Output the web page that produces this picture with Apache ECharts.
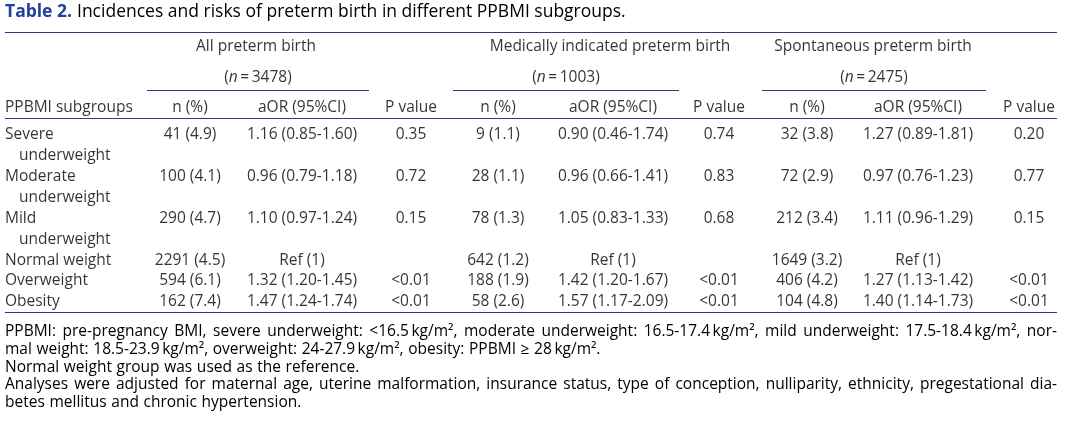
<!DOCTYPE html>
<html><head><meta charset="utf-8">
<script src="https://cdn.jsdelivr.net/npm/echarts@6/dist/echarts.min.js"></script>
<style>html,body{margin:0;padding:0;background:#fff}#c{width:1066px;height:426px}</style>
</head><body><div id="c"></div>
<script>
// ---------------- data ----------------
const titleLabel = 'Table 2.';
const titleText = 'Incidences and risks of preterm birth in different PPBMI subgroups.';
const groupNames = ['All preterm birth', 'Medically indicated preterm birth', 'Spontaneous preterm birth'];
const groupSizes = ['3478', '1003', '2475'];
const columnHeaders = ['n (%)', 'aOR (95%CI)', 'P value'];
const rowHeaderLabel = 'PPBMI subgroups';
const subgroups = ['Severe underweight', 'Moderate underweight', 'Mild underweight', 'Normal weight', 'Overweight', 'Obesity'];
const allN    = ['41 (4.9)', '100 (4.1)', '290 (4.7)', '2291 (4.5)', '594 (6.1)', '162 (7.4)'];
const allAOR  = ['1.16 (0.85-1.60)', '0.96 (0.79-1.18)', '1.10 (0.97-1.24)', 'Ref (1)', '1.32 (1.20-1.45)', '1.47 (1.24-1.74)'];
const allP    = ['0.35', '0.72', '0.15', '', '<0.01', '<0.01'];
const medN    = ['9 (1.1)', '28 (1.1)', '78 (1.3)', '642 (1.2)', '188 (1.9)', '58 (2.6)'];
const medAOR  = ['0.90 (0.46-1.74)', '0.96 (0.66-1.41)', '1.05 (0.83-1.33)', 'Ref (1)', '1.42 (1.20-1.67)', '1.57 (1.17-2.09)'];
const medP    = ['0.74', '0.83', '0.68', '', '<0.01', '<0.01'];
const sponN   = ['32 (3.8)', '72 (2.9)', '212 (3.4)', '1649 (3.2)', '406 (4.2)', '104 (4.8)'];
const sponAOR = ['1.27 (0.89-1.81)', '0.97 (0.76-1.23)', '1.11 (0.96-1.29)', 'Ref (1)', '1.27 (1.13-1.42)', '1.40 (1.14-1.73)'];
const sponP   = ['0.20', '0.77', '0.15', '', '<0.01', '<0.01'];
const footnoteParagraphs = [
  ['PPBMI: pre-pregnancy BMI, severe underweight: <16.5\u2009kg/m\u00b2, moderate underweight: 16.5-17.4\u2009kg/m\u00b2, mild underweight: 17.5-18.4\u2009kg/m\u00b2, nor-',
   'mal weight: 18.5-23.9\u2009kg/m\u00b2, overweight: 24-27.9\u2009kg/m\u00b2, obesity: PPBMI \u2265 28\u2009kg/m\u00b2.'],
  ['Normal weight group was used as the reference.'],
  ['Analyses were adjusted for maternal age, uterine malformation, insurance status, type of conception, nulliparity, ethnicity, pregestational dia-',
   'betes mellitus and chronic hypertension.']
];

// ---------------- layout / style ----------------
const FONT = '"Open Sans", "Noto Sans", sans-serif';
const FS = 15.5;
const FW = 500;
const TEXT = '#000000';
const BLUE = '#23409a';
const RULE = '#2e3a87';
const L = {
  tableLeft: 5, tableTop: 32, tableWidth: 1052,
  colCenters: [185, 297, 406, 493, 608, 714, 802, 913, 1024],
  groupTitleCenters: [251, 605, 868],
  groupSpans: [[142, 364], [448, 674], [757, 981]],
  headerLineY: [15, 46, 75.5],
  underlineY: 58,
  headerRuleY: 86.5,
  bodyFirstY: 102.5,
  bodyPitch: 20.94,
  bottomPad: 10.5,
  wrapWidth: 115 * FS / 15,
  indent: 14,
  footTop: 332, footPitch: 17.6
};

const ctx = document.createElement('canvas').getContext('2d');
function measure(t, size) { ctx.font = FW + ' ' + (size || FS) + 'px ' + FONT; return ctx.measureText(t).width; }

// ---------------- build cells ----------------
const cells = [];
function cell(x, y, text, align, extra) {
  cells.push(Object.assign({ name: text, value: [x, y], label: { align: align || 'center' } }, extra || {}));
}
groupNames.forEach((g, i) => {
  const span = L.groupSpans[i];
  cell(L.groupTitleCenters[i], L.headerLineY[0], g);
  cell((span[0] + span[1]) / 2, L.headerLineY[1], '({i|n}\u2009=\u2009' + groupSizes[i] + ')');
});
cell(0, L.headerLineY[2], rowHeaderLabel, 'left');
for (let g = 0; g < 3; g++) columnHeaders.forEach((h, j) => cell(L.colCenters[g * 3 + j], L.headerLineY[2], h));
const bodyCols = [allN, allAOR, allP, medN, medAOR, medP, sponN, sponAOR, sponP];
let line = 0;
subgroups.forEach((s, r) => {
  const y = L.bodyFirstY + line * L.bodyPitch;
  if (measure(s) > L.wrapWidth && s.indexOf(' ') > 0) {
    const k = s.indexOf(' ');
    cell(0, y, s.slice(0, k), 'left');
    cell(0, y + L.bodyPitch, s.slice(k + 1), 'left', { label: { align: 'left', padding: [0, 0, 0, L.indent] } });
    line += 2;
  } else {
    cell(0, y, s, 'left');
    line += 1;
  }
  bodyCols.forEach((col, c) => { if (col[r]) cell(L.colCenters[c], y, col[r]); });
});
const bottomRuleY = L.bodyFirstY + (line - 1) * L.bodyPitch + L.bottomPad;

const full = [0, L.tableWidth];
const rules = [
  [full, 0], [full, L.headerRuleY], [full, bottomRuleY],
  ...L.groupSpans.map(sp => [sp, L.underlineY])
].map(([sp, y]) => [{ coord: [sp[0], y] }, { coord: [sp[1], y] }]);

// ---------------- footnotes (justified text) ----------------
const foot = [];
let fl = 0;
footnoteParagraphs.forEach(par => {
  par.forEach((ln, i) => {
    const y = L.footTop + fl * L.footPitch;
    const words = ln.split(' ');
    const justify = i < par.length - 1 && words.length > 1;
    const widths = words.map(w => measure(w));
    const sum = widths.reduce((a, b) => a + b, 0);
    const gap = justify ? (L.tableWidth - sum) / (words.length - 1) : measure(' ') * 1.15;
    let x = L.tableLeft;
    words.forEach((w, k) => {
      foot.push({ type: 'text', x: x, y: y, silent: true,
        style: { text: w, fill: TEXT, fontSize: FS, fontWeight: FW, fontFamily: FONT, verticalAlign: 'middle', align: 'left' } });
      x += widths[k] + gap;
    });
    fl++;
  });
});

// ---------------- chart ----------------
const chart = echarts.init(document.getElementById('c'), null, { renderer: 'canvas' });
chart.setOption({
  animation: false,
  backgroundColor: '#fff',
  title: {
    left: L.tableLeft, top: 3, padding: 0,
    text: '{b|' + titleLabel + '} {n|' + titleText + '}',
    textStyle: { fontWeight: 'normal', rich: {
      b: { fontFamily: FONT, fontSize: 17.5, fontWeight: 'bold', color: BLUE },
      n: { fontFamily: FONT, fontSize: 17.5, fontWeight: FW, color: TEXT }
    } }
  },
  grid: { left: L.tableLeft, top: L.tableTop - 5, width: L.tableWidth, height: bottomRuleY + 10 },
  xAxis: { type: 'value', min: 0, max: L.tableWidth, show: false },
  yAxis: { type: 'value', min: -5, max: bottomRuleY + 5, inverse: true, show: false },
  series: [{
    type: 'scatter', clip: false, silent: true,
    symbolSize: 0.01, itemStyle: { color: 'rgba(0,0,0,0)' },
    data: cells,
    label: {
      show: true, formatter: '{b}', position: [0, 0], verticalAlign: 'middle',
      color: TEXT, fontFamily: FONT, fontSize: FS, fontWeight: FW,
      rich: { i: { fontStyle: 'italic', fontFamily: FONT, fontSize: FS, fontWeight: FW, color: TEXT } }
    },
    labelLayout: { hideOverlap: false },
    markLine: {
      silent: true, symbol: 'none', label: { show: false },
      lineStyle: { color: RULE, width: 1.2, type: 'solid' },
      emphasis: { disabled: true },
      data: rules
    }
  }],
  graphic: foot
});
</script>
</body></html>
